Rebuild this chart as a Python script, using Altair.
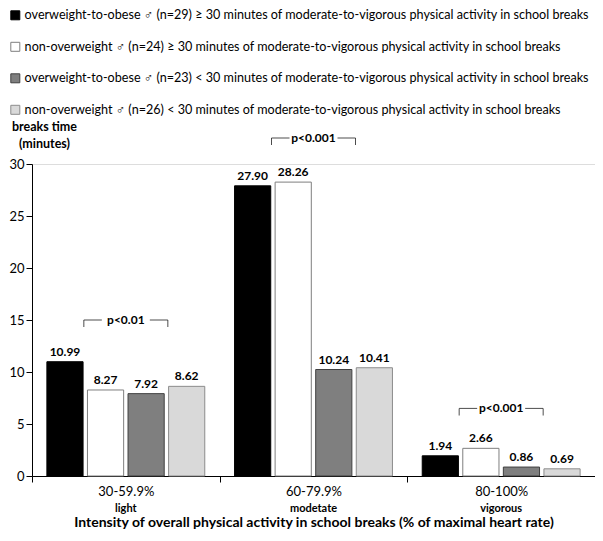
import altair as alt
import pandas as pd

categories = ["30-59.9%", "60-79.9%", "80-100%"]
intensity_names = ["light", "modetate", "vigorous"]
series = [
    "overweight-to-obese \u2642 (n=29) \u2265 30 minutes of moderate-to-vigorous physical activity in school breaks",
    "non-overweight \u2642 (n=24) \u2265 30 minutes of moderate-to-vigorous physical activity in school breaks",
    "overweight-to-obese \u2642 (n=23) < 30 minutes of moderate-to-vigorous physical activity in school breaks",
    "non-overweight \u2642 (n=26) < 30 minutes of moderate-to-vigorous physical activity in school breaks",
]
values_s1 = [10.99, 27.90, 1.94]
values_s2 = [8.27, 28.26, 2.66]
values_s3 = [7.92, 10.24, 0.86]
values_s4 = [8.62, 10.41, 0.69]
p_labels = ["p<0.01", "p<0.001", "p<0.001"]
p_heights = [15.0, 32.5, 6.5]
y_ticks = [0, 5, 10, 15, 20, 25, 30]

fill_colors = ["#000000", "#ffffff", "#7f7f7f", "#d9d9d9"]
stroke_colors = ["#000000", "#7f7f7f", "#404040", "#8c8c8c"]
FONT = "Lato"

rows = []
for s, vals in zip(series, [values_s1, values_s2, values_s3, values_s4]):
    for c, v in zip(categories, vals):
        rows.append({"category": c, "series": s, "value": v})
df = pd.DataFrame(rows)
df_names = pd.DataFrame({"category": categories, "name": intensity_names})
df_p = pd.DataFrame({"category": categories, "label": p_labels, "py": p_heights})

x_enc = alt.X(
    "category:N",
    sort=categories,
    scale=alt.Scale(domain=categories, paddingInner=0, paddingOuter=0),
    axis=alt.Axis(
        title="Intensity of overall physical activity in school breaks (% of maximal heart rate)",
        titleFont=FONT, titleFontSize=14, titleFontWeight="bold", titleColor="black",
        titlePadding=17,
        labelFont=FONT, labelFontSize=13, labelColor="black", labelAngle=0, labelPadding=3,
        tickBand="extent", tickSize=6, tickColor="black", domainColor="black",
        grid=False,
    ),
)
y_scale = alt.Scale(domain=[0, 30], nice=False, zero=True)
y_axis = alt.Axis(
    values=y_ticks, title=["breaks time", "(minutes)"], titleAngle=0, titleAlign="center",
    titleBaseline="top", titleX=12, titleY=-44, titleFont=FONT, titleFontSize=12.5,
    titleFontWeight="bold", titleColor="black", titleLineHeight=17,
    labelFont=FONT, labelFontSize=13, labelColor="black", labelPadding=2,
    tickSize=6, tickColor="black", domainColor="black", grid=False,
)
y_enc = alt.Y("value:Q", scale=y_scale, axis=y_axis)
xoff = alt.XOffset("series:N", sort=series,
                   scale=alt.Scale(domain=series, paddingInner=0.108, paddingOuter=0.367))

legend_def = dict(
    orient="none", legendX=-23, legendY=-155, direction="vertical", symbolType="square",
    symbolSize=81, symbolStrokeWidth=1, labelFont=FONT, labelFontSize=12.6, labelColor="black",
    labelLimit=800, rowPadding=17.5, title=None, labelOffset=3,
)

bars = alt.Chart(df).mark_bar(strokeWidth=1).encode(
    x=x_enc,
    xOffset=xoff,
    y=y_enc,
    color=alt.Color("series:N", sort=series, scale=alt.Scale(domain=series, range=fill_colors),
                    legend=alt.Legend(**legend_def)),
    stroke=alt.Stroke("series:N", sort=series, scale=alt.Scale(domain=series, range=stroke_colors),
                      legend=alt.Legend(**legend_def)),
)

bar_labels = alt.Chart(df).mark_text(
    baseline="bottom", dy=-3, font=FONT, fontSize=12, fontWeight="bold", color="black"
).encode(x=x_enc, xOffset=xoff, y=y_enc, text=alt.Text("value:Q", format=".2f"))

names = alt.Chart(df_names).mark_text(
    baseline="middle", font=FONT, fontSize=11, fontWeight="bold", color="black"
).encode(x=x_enc, y=alt.value(345), text="name:N")

py_enc = alt.Y("py:Q", scale=y_scale, axis=y_axis)
p_text = alt.Chart(df_p).mark_text(
    baseline="middle", font=FONT, fontSize=12, fontWeight="bold", color="black"
).encode(x=x_enc, y=py_enc, text="label:N")
p_left = alt.Chart(df_p).mark_tick(orient="horizontal", size=18, thickness=1, xOffset=-33, color="black"
                                   ).encode(x=x_enc, y=py_enc)
p_right = alt.Chart(df_p).mark_tick(orient="horizontal", size=18, thickness=1, xOffset=33, color="black"
                                    ).encode(x=x_enc, y=py_enc)
p_lend = alt.Chart(df_p).mark_tick(orient="vertical", size=7, thickness=1, xOffset=-42, yOffset=3.5,
                                   color="black").encode(x=x_enc, y=py_enc)
p_rend = alt.Chart(df_p).mark_tick(orient="vertical", size=7, thickness=1, xOffset=42, yOffset=3.5,
                                   color="black").encode(x=x_enc, y=py_enc)

chart = alt.layer(bars, bar_labels, names, p_text, p_left, p_right, p_lend, p_rend).properties(
    width=563, height=312,
    padding={"left": 24, "top": 156, "right": 0, "bottom": 57},
    autosize=alt.AutoSizeParams(type="none"),
).configure_view(stroke=None).configure(font=FONT)

chart.save("out.html", embed_options={"renderer": "svg", "actions": False})
